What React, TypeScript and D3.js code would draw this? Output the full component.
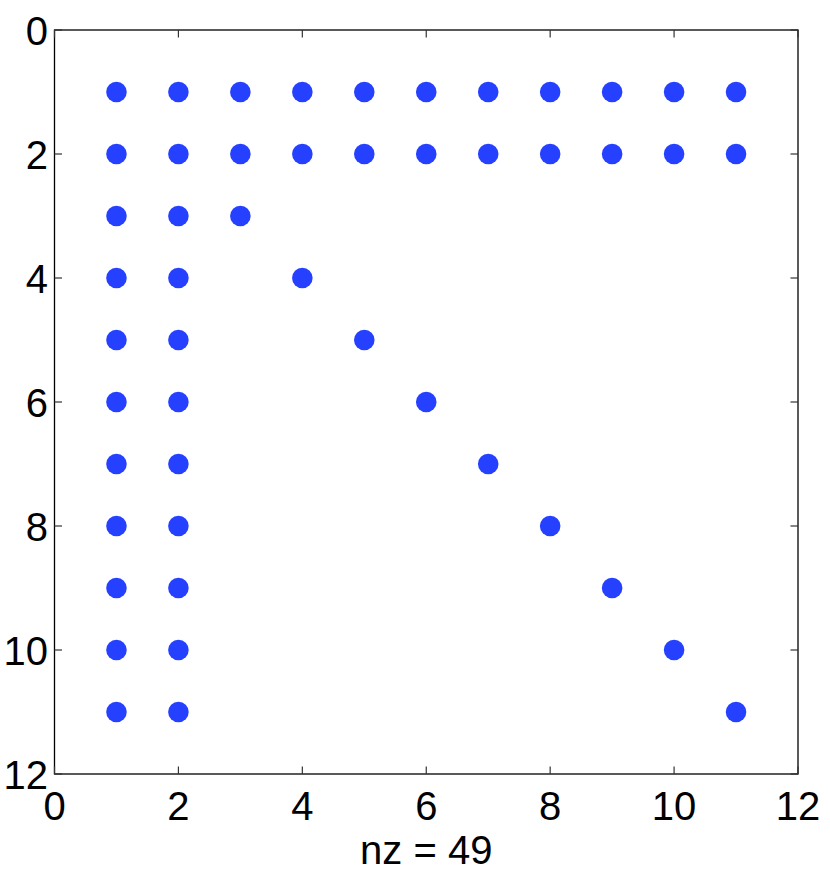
import React from 'react';
import * as d3 from 'd3';

// nonzero positions of the sparse matrix (row, col), 1-based
const rowIdx = [
  1, 1, 1, 1, 1, 1, 1, 1, 1, 1, 1,
  2, 2, 2, 2, 2, 2, 2, 2, 2, 2, 2,
  3, 3, 3,
  4, 4, 4,
  5, 5, 5,
  6, 6, 6,
  7, 7, 7,
  8, 8, 8,
  9, 9, 9,
  10, 10, 10,
  11, 11, 11,
];
const colIdx = [
  1, 2, 3, 4, 5, 6, 7, 8, 9, 10, 11,
  1, 2, 3, 4, 5, 6, 7, 8, 9, 10, 11,
  1, 2, 3,
  1, 2, 4,
  1, 2, 5,
  1, 2, 6,
  1, 2, 7,
  1, 2, 8,
  1, 2, 9,
  1, 2, 10,
  1, 2, 11,
];
const xTicks = [0, 2, 4, 6, 8, 10, 12];
const yTicks = [0, 2, 4, 6, 8, 10, 12];
const xLabel = `nz = ${rowIdx.length}`;

const W = 830;
const H = 875;
const left = 54.5;
const right = 798;
const top = 30;
const bottom = 774;
const font = '"Liberation Sans", Arial, Helvetica, sans-serif';

export default function App() {
  const x = d3.scaleLinear().domain([0, 12]).range([left, right]);
  const y = d3.scaleLinear().domain([0, 12]).range([top, bottom]);
  const tickLen = 7.5;

  return (
    <div style={{ position: 'absolute', left: 0, top: 0 }}>
      <svg width={W} height={H} style={{ display: 'block', background: '#fff' }}>
        <rect x={0} y={0} width={W} height={H} fill="#fff" />

        {/* dots */}
        {rowIdx.map((r, i) => (
          <circle key={i} cx={x(colIdx[i])} cy={y(r)} r={10.3} fill="#2541ff" />
        ))}

        {/* frame */}
        <rect x={left} y={top} width={right - left} height={bottom - top}
          fill="none" stroke="#000" strokeWidth={1.3} />

        {/* x ticks, bottom and top, pointing inward */}
        {xTicks.map(t => (
          <g key={'x' + t}>
            <line x1={x(t)} x2={x(t)} y1={bottom} y2={bottom - tickLen} stroke="#333" strokeWidth={1.2} />
            <line x1={x(t)} x2={x(t)} y1={top} y2={top + tickLen} stroke="#333" strokeWidth={1.2} />
            <text x={x(t)} y={820} textAnchor="middle" fontFamily={font} fontSize={40} fill="#000">{t}</text>
          </g>
        ))}

        {/* y ticks, left and right */}
        {yTicks.map(t => (
          <g key={'y' + t}>
            <line x1={left} x2={left + tickLen} y1={y(t)} y2={y(t)} stroke="#333" strokeWidth={1.2} />
            <line x1={right} x2={right - tickLen} y1={y(t)} y2={y(t)} stroke="#333" strokeWidth={1.2} />
            <text x={48} y={y(t) + 14.5} textAnchor="end" fontFamily={font} fontSize={40} fill="#000">{t}</text>
          </g>
        ))}

        <text x={(left + right) / 2} y={864} textAnchor="middle" fontFamily={font} fontSize={40} fill="#000">
          {xLabel}
        </text>
      </svg>
    </div>
  );
}
